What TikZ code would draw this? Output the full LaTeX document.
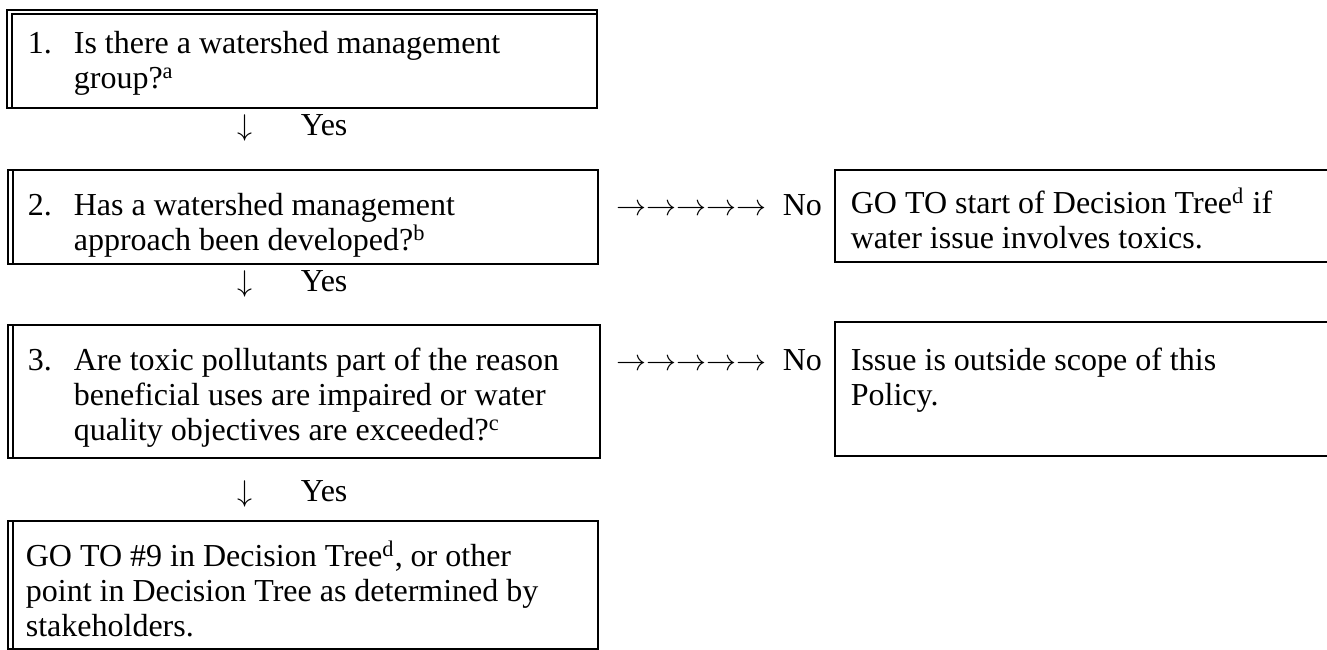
\documentclass[tikz,border=0pt]{standalone}
\usepackage{fontspec}
\setmainfont{Liberation Serif}

\begin{document}
\begin{tikzpicture}[x=0.4pt,y=-0.4pt,line width=0.7pt,
		boxtext/.style={anchor=base west,inner sep=0pt,align=left,
			font=\fontsize{12.8}{14}\selectfont},
		marktext/.style={anchor=base west,inner sep=0pt,
			font=\fontsize{12.8}{14}\selectfont}]
	%%%%% START %%%%%
	\def\xl{8}
	\def\xli{13}
	\def\xr{598}
	\def\xq{835}
	\def\ind{\hspace*{18.4pt}}
	\def\num#1{\makebox[18.4pt][l]{#1}}

	\useasboundingbox (0,0) rectangle (1327,650);

	% left column
	\draw (7,10) rectangle (597,108);
	\draw (12,108) -- (12,14) -- (597,14);
	\draw (\xl,170) rectangle (\xr,264);
	\draw (\xli,170) -- (\xli,264);
	\draw (\xl,325) rectangle (600,458);
	\draw (\xli,325) -- (\xli,458);
	\draw (\xl,521) rectangle (\xr,649);
	\draw (\xli,521) -- (\xli,649);

	% right column
	\draw (1327,170) -- (\xq,170) -- (\xq,262) -- (1327,262);
	\draw (1327,322) -- (\xq,322) -- (\xq,456) -- (1327,456);

	% base = last line
	\node[boxtext] (qone) at (27,89) {\num{1.}Is there a watershed management\\\ind group?\textsuperscript{a}};
	\node[boxtext] (qtwo) at (27,251) {\num{2.}Has a watershed management\\\ind approach been developed?\textsuperscript{b}};
	\node[boxtext] (qthree) at (27,441) {\num{3.}Are toxic pollutants part of the reason\\\ind beneficial uses are impaired or water\\\ind quality objectives are exceeded?\textsuperscript{c}};
	\node[boxtext] (goto) at (25,637) {GO TO \#9 in Decision Tree\textsuperscript{d}, or other\\point in Decision Tree as determined by\\stakeholders.};

	\node[boxtext] (restart) at (850,249) {GO TO start of Decision Tree\textsuperscript{d} if\\water issue involves toxics.};
	\node[boxtext] (outside) at (850,406) {Issue is outside scope of this\\Policy.};

	% yes marks
	\foreach \y/\n in {136/one,292/two,502/three}{
		\node[marktext] (down\n) at (237,\y) {$\downarrow$};
		\node[marktext] (yes\n) at (300,\y) {Yes};
	}
	% no marks
	\foreach \y/\n in {216/two,371/three}{
		\node[marktext] (right\n) at (616,\y) {$\rightarrow\rightarrow\rightarrow\rightarrow\rightarrow$};
		\node[marktext] (no\n) at (782,\y) {No};
	}
	%%%%% START %%%%%
\end{tikzpicture}
\end{document}
